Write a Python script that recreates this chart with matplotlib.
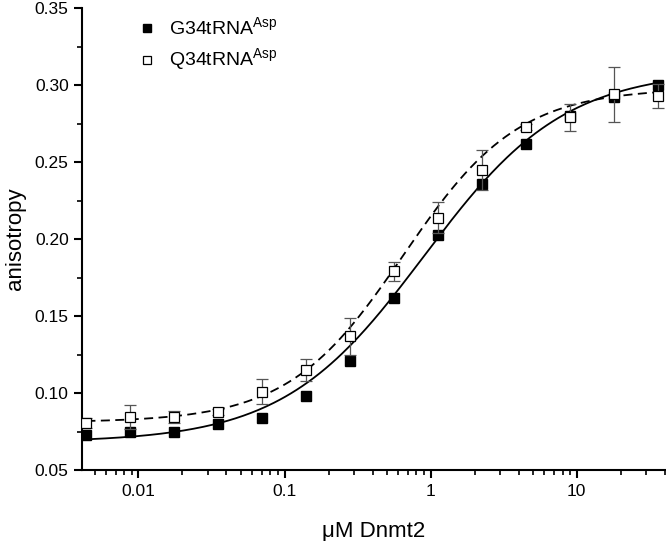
import numpy as np
import matplotlib
matplotlib.use('Agg')
import matplotlib.pyplot as plt
from matplotlib.ticker import LogLocator, MultipleLocator, FixedLocator, FixedFormatter

plt.rcParams['font.family'] = ['Liberation Sans', 'DejaVu Sans']
plt.rcParams['mathtext.fontset'] = 'custom'
plt.rcParams['mathtext.rm'] = 'Liberation Sans'

# concentrations (uM Dnmt2)
conc = [0.0044, 0.0088, 0.0176, 0.035, 0.07, 0.14, 0.28, 0.56, 1.125, 2.25, 4.5, 9, 18, 36]

# G34tRNA-Asp, filled squares
g34 = [0.073, 0.0747, 0.075, 0.080, 0.084, 0.098, 0.121, 0.162, 0.203, 0.236, 0.262, 0.280, 0.292, 0.300]

# Q34tRNA-Asp, open squares with error bars
q34 = [0.0806, 0.0845, 0.0845, 0.088, 0.101, 0.115, 0.137, 0.179, 0.214, 0.245, 0.273, 0.279, 0.294, 0.293]
q34_err = [0.003, 0.0077, 0.004, 0.002, 0.008, 0.007, 0.012, 0.006, 0.010, 0.013, 0.002, 0.009, 0.018, 0.008]

# fit parameters: bottom, top, K, hill
g34_fit = [0.068, 0.31, 0.9, 0.9]
q34_fit = [0.081, 0.298, 0.65, 1.1]


def hill(x, p):
    b, t, k, n = p
    return b + (t - b) * (x / k) ** n / (1 + (x / k) ** n)


xs = np.logspace(np.log10(conc[0]), np.log10(conc[-1]), 300)

fig = plt.figure(figsize=(6.66, 5.41), dpi=100)
ax = fig.add_axes([0.123, 0.131, 0.875, 0.854])

ax.plot(xs, hill(xs, g34_fit), color='black', lw=1.3, zorder=2)
ax.plot(xs, hill(xs, q34_fit), color='black', lw=1.3, ls=(0, (5, 3)), zorder=2)

ax.plot(conc, g34, 's', color='black', ms=7.5, mec='black', zorder=3,
        label='G34tRNA$^{\\mathrm{Asp}}$')
ax.errorbar(conc, q34, yerr=q34_err, fmt='none', ecolor='#555555', elinewidth=0.9,
            capsize=4, capthick=0.9, zorder=4)
ax.plot(conc, q34, 's', mfc='white', mec='black', mew=0.9, ms=7.5, zorder=5,
        label='Q34tRNA$^{\\mathrm{Asp}}$')

ax.set_xscale('log')
ax.set_xlim(0.0041, 40)
ax.set_ylim(0.05, 0.35)

ax.xaxis.set_major_locator(FixedLocator([0.01, 0.1, 1, 10]))
ax.xaxis.set_major_formatter(FixedFormatter(['0.01', '0.1', '1', '10']))
ax.xaxis.set_minor_locator(LogLocator(base=10, subs=np.arange(2, 10)))
ax.xaxis.set_minor_formatter(plt.NullFormatter())
ax.yaxis.set_major_locator(MultipleLocator(0.05))
ax.yaxis.set_minor_locator(MultipleLocator(0.025))
ax.yaxis.set_major_formatter(plt.FormatStrFormatter('%.2f'))

for s in ['top', 'right']:
    ax.spines[s].set_visible(False)
for s in ['left', 'bottom']:
    ax.spines[s].set_linewidth(1.5)

ax.tick_params(which='major', direction='out', length=6, width=1.5, labelsize=12.5, colors='black')
ax.tick_params(which='minor', direction='out', length=3.5, width=1.2)
ax.tick_params(axis='x', which='major', pad=4)

ax.set_xlabel('\u03bcM Dnmt2', fontsize=16, labelpad=16)
ax.set_ylabel('anisotropy', fontsize=16, labelpad=6)

ax.legend(loc='upper left', bbox_to_anchor=(0.062, 1.02), frameon=False, fontsize=14,
          handletextpad=0.5, labelspacing=0.4, markerscale=0.75, handlelength=1.2)

fig.savefig('out.png', dpi=100)
